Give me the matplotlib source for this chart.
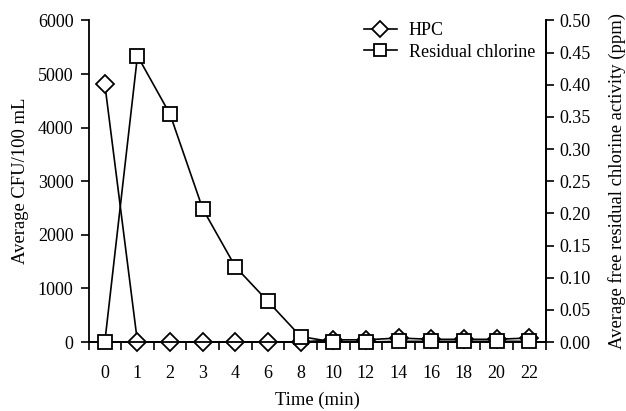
import matplotlib
matplotlib.use("Agg")
import matplotlib.pyplot as plt
from matplotlib import font_manager
import numpy as np

times = ["0", "1", "2", "3", "4", "6", "8", "10", "12", "14", "16", "18", "20", "22"]
hpc = [4810, 0, 0, 0, 0, 0, 0, 40, 40, 75, 50, 50, 50, 75]
chlorine = [0.0, 0.445, 0.354, 0.207, 0.117, 0.063, 0.0085, 0.0, 0.0, 0.001, 0.001, 0.001, 0.001, 0.001]
left_ticks = [0, 1000, 2000, 3000, 4000, 5000, 6000]
right_ticks = [0.00, 0.05, 0.10, 0.15, 0.20, 0.25, 0.30, 0.35, 0.40, 0.45, 0.50]

names = sorted({f.name for f in font_manager.fontManager.ttflist})
serif = 'Liberation Serif' if 'Liberation Serif' in names else 'DejaVu Serif'
plt.rcParams['font.family'] = 'serif'
plt.rcParams['font.serif'] = [serif, 'DejaVu Serif']
plt.rcParams['font.size'] = 13

fig = plt.figure(figsize=(6.26, 4.11), dpi=100)
ax = fig.add_axes([88.5/626, 1 - 342/411, (545.5-88.5)/626, (342-20.5)/411])
ax2 = ax.twinx()

x = np.arange(len(times))
l1, = ax.plot(x, hpc, color='black', lw=1.2, marker='D', ms=9.6, mfc='white', mec='black', mew=1.3,
              zorder=3, clip_on=False, label='HPC')
l2, = ax2.plot(x, chlorine, color='black', lw=1.2, marker='s', ms=9.6, mfc='white', mec='black', mew=1.3,
               zorder=3, clip_on=False, label='Residual chlorine')

ax.set_xlim(-0.5, len(times) - 0.5)
ax.set_ylim(0, 6000)
ax2.set_ylim(0, 0.5)
ax.set_yticks(left_ticks)
ax2.set_yticks(right_ticks)
ax2.set_yticklabels([f"{v:.2f}" for v in right_ticks])
ax.set_xticks(x)
ax.set_xticklabels(times)
ax.tick_params(axis='x', which='major', length=0, pad=16.5)
ax.set_xticks(np.arange(len(times) + 1) - 0.5, minor=True)
ax.tick_params(axis='x', which='minor', length=5.8, width=1.2, direction='out')
ax.tick_params(axis='y', length=5.8, width=1.2, direction='out', pad=5)
ax2.tick_params(axis='y', length=5.8, width=1.2, direction='out', pad=4.5)

for a in (ax, ax2):
    a.spines['top'].set_visible(False)
    for s in a.spines.values():
        s.set_linewidth(1.3)
ax2.spines['left'].set_visible(False)

ax.set_xlabel('Time (min)', labelpad=7, fontsize=13.4)
ax.set_ylabel('Average CFU/100 mL', labelpad=6, fontsize=13.4)
ax2.set_ylabel('Average free residual chlorine activity (ppm)', labelpad=12, fontsize=13.4)

ax2.legend([l1, l2], ['HPC', 'Residual chlorine'], loc='upper right', bbox_to_anchor=(0.993, 1.017),
           frameon=False, handlelength=1.85, handletextpad=0.65, borderaxespad=0, labelspacing=0.25,
           markerscale=0.85)

fig.savefig('out.png', dpi=100)
